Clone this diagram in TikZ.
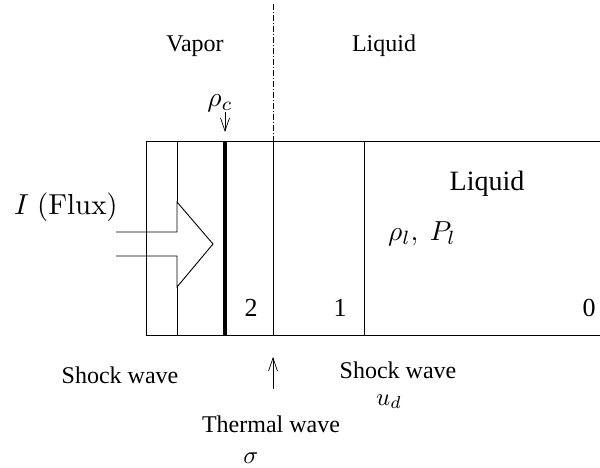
\documentclass[tikz,border=0pt]{standalone}
\usepackage{amsmath,amsfonts,amssymb}
\usepackage[no-math]{fontspec}
\setmainfont{Liberation Serif}
\usetikzlibrary{arrows.meta}

\begin{document}
\begin{tikzpicture}[
  x=1pt, y=-1pt,
  wall/.style={line width=0.9pt},
  front/.style={line width=4pt},
  axis/.style={line width=0.7pt, dash pattern=on 6pt off 2pt on 1pt off 2pt},
  small/.style={anchor=base, inner sep=0pt, font=\fontsize{24}{28}\selectfont},
  digit/.style={anchor=base, inner sep=0pt, font=\fontsize{26}{30}\selectfont},
  big/.style={anchor=base, inner sep=0pt, scale=2.75},
  >={Straight Barb[length=13pt, width=9pt]}
]
\useasboundingbox (0,0) rectangle (600,467);
% outer box, open on the right
\coordinate (tl) at (146,141);
\coordinate (bl) at (146,335);
\coordinate (tr) at (600,141);
\coordinate (br) at (600,335);
\draw[wall] (tr) -- (tl) -- (bl) -- (br);
% inner walls
\coordinate (a0) at (177,141);
\coordinate (a1) at (177,335);
\coordinate (b0) at (225,141);
\coordinate (b1) at (225,335);
\coordinate (c0) at (273,141);
\coordinate (c1) at (273,335);
\coordinate (c2) at (273,4);
\coordinate (d0) at (364,141);
\coordinate (d1) at (364,335);
\draw[wall] (a0) -- (a1);
\draw[front] (b0) -- (b1);
\draw[wall] (c0) -- (c1);
\draw[wall] (d0) -- (d1);
\draw[axis] (c2) -- (c0);
% flux arrow
\coordinate (f0) at (116,232);
\coordinate (f1) at (177,232);
\coordinate (f2) at (177,202);
\coordinate (f3) at (213,244);
\coordinate (f4) at (177,287);
\coordinate (f5) at (177,256);
\coordinate (f6) at (116,256);
\coordinate (g0) at (146,232);
\coordinate (g1) at (146,256);
\fill[white] (f0) -- (f1) -- (f2) -- (f3) -- (f4) -- (f5) -- (f6) -- cycle;
\draw[wall] (f0) -- (f1) -- (f2) -- (f3) -- (f4) -- (f5) -- (f6);
\draw[wall] (g0) -- (g1);
% labels
\node[small] (vapor) at (195,51) {Vapor};
\node[small] (liqtop) at (384,51) {Liquid};
\node[big] (rhoc) at (220,106) {$\rho_c$};
\node[big, scale=1.05] (flux) at (66,214) {$I\hspace{2.8pt}\mathrm{(Flux)}$};
\node[small, font=\fontsize{28}{32}\selectfont] (liqin) at (487,190) {Liquid};
\node[big] (rhol) at (422,240) {$\rho_l,\ P_l$};
\node[digit] (two) at (251,316) {2};
\node[digit] (one) at (340,316) {1};
\node[digit] (zero) at (589,316) {0};
\node[small] (shockl) at (120,383) {Shock wave};
\node[small] (shockr) at (398,378) {Shock wave};
\node[big, scale=0.9] (ud) at (389,405) {$u_d$};
\node[small] (thermal) at (271,432) {Thermal wave};
\node[big, scale=0.9] (sigma) at (251,463) {$\sigma$};
% arrows
\coordinate (rhotail) at (225,112);
\coordinate (rhotip) at (225,132);
\coordinate (thtail) at (273,389);
\coordinate (thtip) at (273,357);
\draw[->, line width=0.7pt] (rhotail) -- (rhotip);
\draw[->, line width=0.7pt] (thtail) -- (thtip);
\end{tikzpicture}
\end{document}
